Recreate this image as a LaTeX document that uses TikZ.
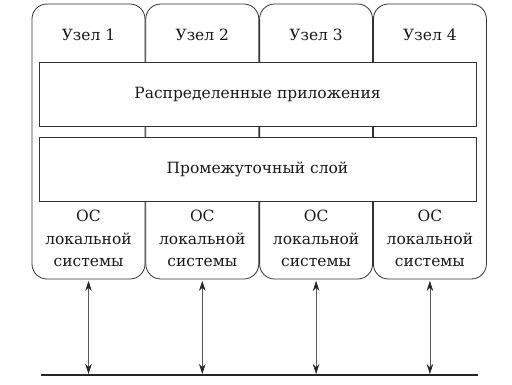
\documentclass[tikz,border=0pt]{standalone}
\usepackage{fontspec}
\setmainfont{DejaVu Serif}
\usetikzlibrary{arrows.meta,positioning,calc}
\tikzset{
  hostbox/.style={draw=black!80, thick, rounded corners=15pt, minimum width=113pt,
                  minimum height=275pt, inner sep=0pt},
  layer/.style={draw=black!80, thick, fill=white, minimum width=437pt,
                minimum height=64pt, inner sep=0pt},
  link/.style={{Stealth[length=10pt,width=6.5pt,color=black!85]}-{Stealth[length=10pt,width=6.5pt,color=black!85]},
               semithick, black!65, shorten <=1.5pt, shorten >=1pt},
  bus/.style={line width=1.8pt, black!85},
}

\begin{document}
\begin{tikzpicture}[x=1pt, y=-1pt, font=\fontsize{15.5}{22.5}\selectfont, text=black!90]
  \useasboundingbox (0,0) rectangle (512,385);
  \node[hostbox] (h1) at (88.5,141.5) {};
  \node[hostbox, right=0pt of h1] (h2) {};
  \node[hostbox, right=0pt of h2] (h3) {};
  \node[hostbox, right=0pt of h3] (h4) {};

  \node (n1) at ($(h1.north)+(0,31)$) {Узел 1};
  \node (n2) at ($(h2.north)+(0,31)$) {Узел 2};
  \node (n3) at ($(h3.north)+(0,31)$) {Узел 3};
  \node (n4) at ($(h4.north)+(0,31)$) {Узел 4};

  \node[layer] (apps) at (257.5,94) {Распределенные приложения};
  \node[layer, below=11pt of apps] (mid) {Промежуточный слой};

  \node[align=center] (os1) at ($(h1.south)+(0,-41)$) {ОС\\локальной\\системы};
  \node[align=center] (os2) at ($(h2.south)+(0,-41)$) {ОС\\локальной\\системы};
  \node[align=center] (os3) at ($(h3.south)+(0,-41)$) {ОС\\локальной\\системы};
  \node[align=center] (os4) at ($(h4.south)+(0,-41)$) {ОС\\локальной\\системы};

  \coordinate (busL) at (41,375);
  \coordinate (busR) at (478,375);
  \draw[bus] (busL) -- (busR);

  \draw[link] (h1.south) -- (h1.south |- busL);
  \draw[link] (h2.south) -- (h2.south |- busL);
  \draw[link] (h3.south) -- (h3.south |- busL);
  \draw[link] (h4.south) -- (h4.south |- busL);
\end{tikzpicture}
\end{document}
